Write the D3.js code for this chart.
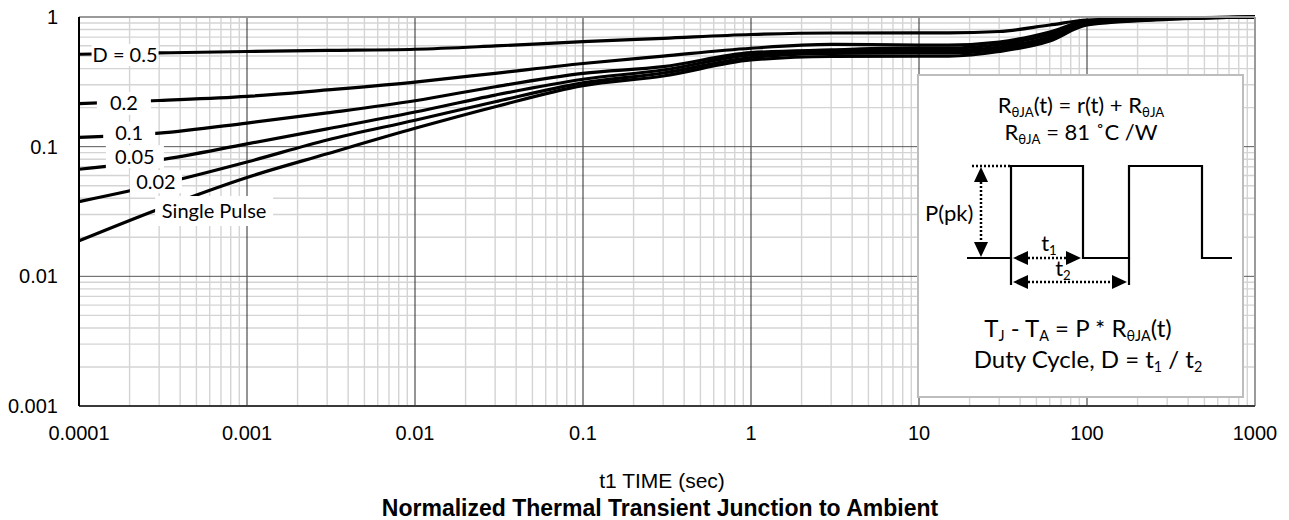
<!DOCTYPE html>
<html>
<head>
<meta charset="utf-8">
<script src="https://cdn.jsdelivr.net/npm/d3@7"></script>
<style>
  body { margin: 0; background: #fff; }
  svg text { font-family: "Liberation Sans", Arial, sans-serif; }
  svg text.lbl { font-family: Lato, "Open Sans", sans-serif; }
</style>
</head>
<body>
<div id="chart"></div>
<script>
// time axis (sec) and normalized r(t) per duty cycle
var times = [1e-4, 3e-4, 1e-3, 3e-3, 0.01, 0.03, 0.1, 0.3, 1, 3, 10, 15, 30, 60, 100, 300, 1000];
var dutyD05 = [0.516, 0.528, 0.542, 0.552, 0.564, 0.598, 0.645, 0.685, 0.733, 0.753, 0.755, 0.755, 0.773, 0.868, 0.948, 0.982, 1.0];
var dutyD02 = [0.215, 0.227, 0.244, 0.274, 0.315, 0.368, 0.438, 0.50, 0.574, 0.614, 0.608, 0.608, 0.641, 0.766, 0.932, 0.982, 1.0];
var dutyD01 = [0.118, 0.127, 0.152, 0.182, 0.226, 0.29, 0.367, 0.414, 0.531, 0.557, 0.577, 0.577, 0.614, 0.733, 0.915, 0.974, 1.0];
var dutyD005 = [0.067, 0.079, 0.105, 0.137, 0.185, 0.25, 0.331, 0.39, 0.51, 0.542, 0.552, 0.552, 0.587, 0.701, 0.899, 0.965, 1.0];
var dutyD002 = [0.0377, 0.0513, 0.0762, 0.1127, 0.16, 0.222, 0.31, 0.37, 0.487, 0.523, 0.528, 0.528, 0.562, 0.677, 0.883, 0.965, 1.0];
var singlePulse = [0.0188, 0.0331, 0.0579, 0.0881, 0.1386, 0.2034, 0.296, 0.351, 0.466, 0.496, 0.50, 0.50, 0.542, 0.653, 0.868, 0.957, 1.0];

var seriesNames = ["D = 0.5", "0.2", "0.1", "0.05", "0.02", "Single Pulse"];
var seriesValues = [dutyD05, dutyD02, dutyD01, dutyD005, dutyD002, singlePulse];

var xTicks = [0.0001, 0.001, 0.01, 0.1, 1, 10, 100, 1000];
var xTickLabels = ["0.0001", "0.001", "0.01", "0.1", "1", "10", "100", "1000"];
var yTicks = [0.001, 0.01, 0.1, 1];
var yTickLabels = ["0.001", "0.01", "0.1", "1"];

var xTitle = "t1 TIME (sec)";
var chartTitle = "Normalized Thermal Transient Junction to Ambient";

var W = 1289, H = 520;
var margin = {top: 17, right: 34, bottom: 114, left: 79};
var width = W - margin.left - margin.right;
var height = H - margin.top - margin.bottom;

var x = d3.scaleLog().domain([1e-4, 1000]).range([0, width]);
var y = d3.scaleLog().domain([0.001, 1]).range([height, 0]);

var svg = d3.select("#chart").append("svg")
    .attr("width", W)
    .attr("height", H);

var plot = svg.append("g")
    .attr("transform", "translate(" + margin.left + "," + margin.top + ")");

// minor grid
var minorX = [], minorY = [];
for (var e = -4; e < 3; e++) for (var k = 2; k < 10; k++) minorX.push(k * Math.pow(10, e));
for (var e2 = -3; e2 < 0; e2++) for (var k2 = 2; k2 < 10; k2++) minorY.push(k2 * Math.pow(10, e2));

plot.selectAll("line.minx").data(minorX).enter().append("line")
    .attr("x1", d => x(d)).attr("x2", d => x(d))
    .attr("y1", 0).attr("y2", height)
    .attr("stroke", "#d4d4d4").attr("stroke-width", 1.4);
plot.selectAll("line.miny").data(minorY).enter().append("line")
    .attr("y1", d => y(d)).attr("y2", d => y(d))
    .attr("x1", 0).attr("x2", width)
    .attr("stroke", "#d4d4d4").attr("stroke-width", 1.4);

// major grid
plot.selectAll("line.majx").data(xTicks.slice(1, -1)).enter().append("line")
    .attr("x1", d => x(d)).attr("x2", d => x(d))
    .attr("y1", 0).attr("y2", height)
    .attr("stroke", "#2b2b2b").attr("stroke-width", 1);
plot.selectAll("line.majy").data(yTicks.slice(1, -1)).enter().append("line")
    .attr("y1", d => y(d)).attr("y2", d => y(d))
    .attr("x1", 0).attr("x2", width)
    .attr("stroke", "#5a5a5a").attr("stroke-width", 1);

// curves
var line = d3.line()
    .x(d => x(d[0]))
    .y(d => y(d[1]))
    .curve(d3.curveMonotoneX);

plot.selectAll("path.curve").data(seriesValues).enter().append("path")
    .attr("d", vals => line(vals.map((v, i) => [times[i], v])))
    .attr("fill", "none")
    .attr("stroke", "#000")
    .attr("stroke-width", 3.2);

// frame
plot.append("line").attr("x1", 0).attr("x2", width).attr("y1", 0).attr("y2", 0)
    .attr("stroke", "#9a9a9a").attr("stroke-width", 2);
plot.append("line").attr("x1", width).attr("x2", width).attr("y1", 0).attr("y2", height)
    .attr("stroke", "#9a9a9a").attr("stroke-width", 2);
plot.append("line").attr("x1", 0).attr("x2", width).attr("y1", height).attr("y2", height)
    .attr("stroke", "#3a3a3a").attr("stroke-width", 2);
plot.append("line").attr("x1", 0).attr("x2", 0).attr("y1", 0).attr("y2", height)
    .attr("stroke", "#000").attr("stroke-width", 2);

// series labels (anchor in data space, box size in px)
var labelAt = [[1.88e-4, 0.509], [1.85e-4, 0.216], [1.99e-4, 0.128], [2.15e-4, 0.0837], [2.87e-4, 0.0537], [6.37e-4, 0.0319]];
var labelBox = [[67, 22], [54, 23], [52, 22], [58, 23], [52, 23], [118, 30]];
var labels = plot.selectAll("g.lab").data(seriesNames).enter().append("g")
    .attr("transform", (d, i) => "translate(" + x(labelAt[i][0]) + "," + y(labelAt[i][1]) + ")");
labels.append("rect")
    .attr("x", (d, i) => -labelBox[i][0] / 2)
    .attr("y", (d, i) => -labelBox[i][1] / 2)
    .attr("width", (d, i) => labelBox[i][0])
    .attr("height", (d, i) => labelBox[i][1])
    .attr("fill", "#fff");
labels.append("text")
    .attr("class", "lbl")
    .attr("text-anchor", "middle")
    .attr("dy", "0.35em")
    .attr("font-size", 20)
    .text(d => d);

// axes tick labels
svg.append("g").selectAll("text").data(xTicks).enter().append("text")
    .attr("x", d => margin.left + x(d))
    .attr("y", margin.top + height + 34)
    .attr("text-anchor", "middle")
    .attr("font-size", 20)
    .text((d, i) => xTickLabels[i]);
svg.append("g").selectAll("text").data(yTicks).enter().append("text")
    .attr("x", margin.left - 21)
    .attr("y", d => margin.top + y(d) + 7)
    .attr("text-anchor", "end")
    .attr("font-size", 20)
    .text((d, i) => yTickLabels[i]);

svg.append("text")
    .attr("x", 662).attr("y", 488)
    .attr("text-anchor", "middle")
    .attr("font-size", 21)
    .text(xTitle);
svg.append("text")
    .attr("x", 660).attr("y", 516)
    .attr("text-anchor", "middle")
    .attr("font-size", 23)
    .attr("font-weight", "bold")
    .text(chartTitle);

// inset diagram
var inset = svg.append("g").attr("transform", "translate(918,75)");
inset.append("rect")
    .attr("width", 325).attr("height", 322)
    .attr("fill", "#fff")
    .attr("stroke", "#bdbdbd").attr("stroke-width", 2);

// text with subscripts: parts = [[string, isSub], ...]
function subText(g, parts, xPos, yPos, size) {
  var t = g.append("text").attr("class", "lbl")
      .attr("x", xPos).attr("y", yPos)
      .attr("text-anchor", "middle")
      .attr("font-size", size);
  var shift = size * 0.18;
  parts.forEach(function(p, i) {
    var prevSub = i > 0 && parts[i - 1][1];
    var dy = p[1] ? (prevSub ? 0 : shift) : (prevSub ? -shift : 0);
    var s = t.append("tspan").attr("dy", dy).text(p[0]);
    if (p[1]) s.attr("font-size", size * 0.6);
  });
  return t;
}

subText(inset, [["R", 0], ["θJA", 1], ["(t) = r(t) + R", 0], ["θJA", 1]], 163, 38, 22);
subText(inset, [["R", 0], ["θJA", 1], [" = 81 ˚C /W", 0]], 163, 65, 22);
subText(inset, [["T", 0], ["J", 1], [" - T", 0], ["A", 1], [" = P * R", 0], ["θJA", 1], ["(t)", 0]], 160, 262, 24);
subText(inset, [["Duty Cycle, D = t", 0], ["1", 1], [" / t", 0], ["2", 1]], 170, 293, 24);

// square wave
var hi = 91, lo = 183;
var wave = [[49, lo], [93, lo], [93, hi], [165, hi], [165, lo], [211, lo], [211, hi], [284, hi], [284, lo], [314, lo]];
inset.append("path")
    .attr("d", d3.line()(wave))
    .attr("fill", "none").attr("stroke", "#000").attr("stroke-width", 2.2);
inset.append("line").attr("x1", 93).attr("x2", 93).attr("y1", lo).attr("y2", 210)
    .attr("stroke", "#000").attr("stroke-width", 2.2);
inset.append("line").attr("x1", 211).attr("x2", 211).attr("y1", lo).attr("y2", 210)
    .attr("stroke", "#000").attr("stroke-width", 2.2);

function dotted(x1, y1, x2, y2) {
  inset.append("line").attr("x1", x1).attr("y1", y1).attr("x2", x2).attr("y2", y2)
      .attr("stroke", "#000").attr("stroke-width", 2.5).attr("stroke-dasharray", "2,2");
}
function head(xTip, yTip, dir) {
  var L = 15, w = 7, pts;
  if (dir === "up") pts = [[xTip, yTip], [xTip - w, yTip + L], [xTip + w, yTip + L]];
  if (dir === "down") pts = [[xTip, yTip], [xTip - w, yTip - L], [xTip + w, yTip - L]];
  if (dir === "left") pts = [[xTip, yTip], [xTip + L, yTip - w], [xTip + L, yTip + w]];
  if (dir === "right") pts = [[xTip, yTip], [xTip - L, yTip - w], [xTip - L, yTip + w]];
  inset.append("polygon").attr("points", pts.map(p => p.join(",")).join(" ")).attr("fill", "#000");
}

dotted(54, hi, 93, hi);
dotted(63, hi + 12, 63, lo - 12);
head(63, hi + 1, "up");
head(63, lo - 1, "down");
dotted(106, lo, 153, lo);
head(95, lo, "left");
head(163, lo, "right");
dotted(106, 207, 199, 207);
head(95, 207, "left");
head(209, 207, "right");

inset.append("text").attr("class", "lbl").attr("x", 7).attr("y", 146)
    .attr("font-size", 22).text("P(pk)");
subText(inset, [["t", 0], ["1", 1]], 131, 176, 22);
subText(inset, [["t", 0], ["2", 1]], 145, 201, 22);
</script>
</body>
</html>
